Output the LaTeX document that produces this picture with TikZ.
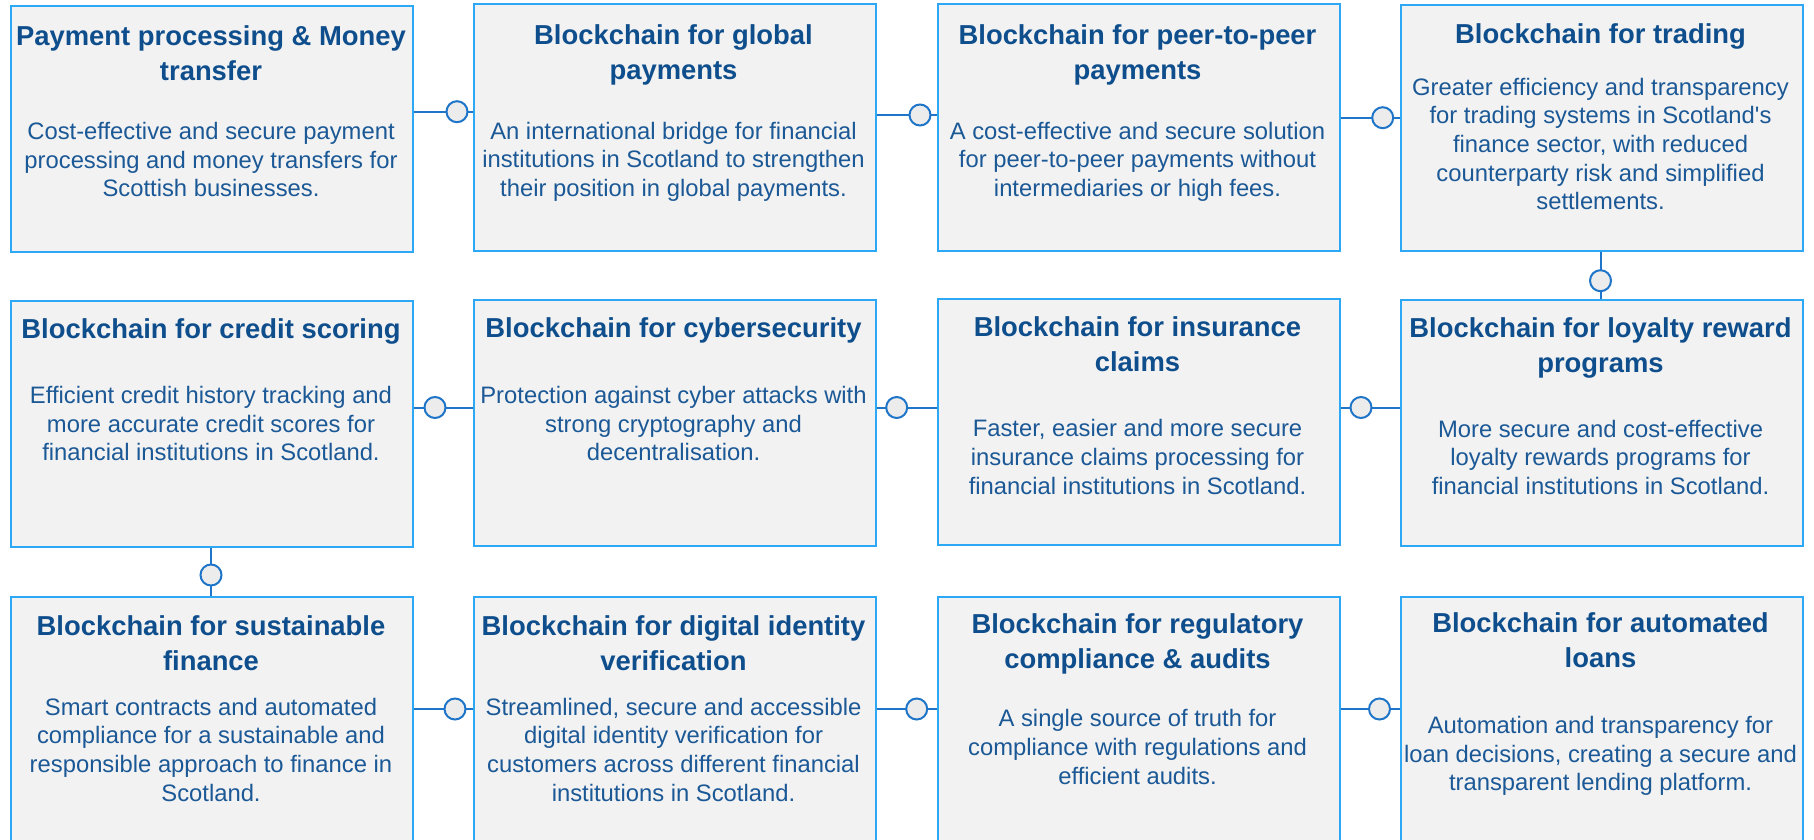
\documentclass[tikz,border=0pt]{standalone}
\usepackage{fontspec}
\setmainfont{Liberation Sans}
\usetikzlibrary{calc}
\definecolor{boxline}{HTML}{2CA8F5}
\definecolor{boxfill}{HTML}{F2F2F2}
\definecolor{linkblue}{HTML}{1F75C8}
\definecolor{dotfill}{HTML}{ECECEC}
\definecolor{titleblue}{HTML}{0F4E8C}
\definecolor{bodyblue}{HTML}{1B5896}
\newcommand{\tstr}{\rule{0pt}{30pt}}
\newcommand{\bstr}{\rule{0pt}{26pt}}
\begin{document}
\begin{tikzpicture}[x=1pt,y=-1pt,
 card/.style={draw=boxline, line width=2pt, fill=boxfill, minimum width=402pt, minimum height=246pt, inner sep=0pt, anchor=north west},
 ttl/.style={anchor=north, inner sep=0pt, align=center, text=titleblue, font=\fontsize{27.4}{35}\selectfont\bfseries},
 bdy/.style={anchor=north, inner sep=0pt, align=center, text=bodyblue, font=\fontsize{23.8}{28.6}\selectfont},
 link/.style={draw=linkblue, line width=2pt},
 dot/.style={circle, draw=linkblue, fill=dotfill, line width=2pt, minimum size=21pt, inner sep=0pt}]
\useasboundingbox (0,0) rectangle (1814,840);
\fill[white] (0,0) rectangle (1814,840);

% boxes
\node[card] (b1) at (10,5) {};
\node[card] (b2) at (472.5,3.5) {};
\node[card] (b3) at (936.5,3.5) {};
\node[card] (b4) at (1399.5,4.3) {};
\node[card] (b5) at (10,300) {};
\node[card] (b6) at (472.5,299.3) {};
\node[card] (b7) at (936.5,298.3) {};
\node[card] (b8) at (1399.5,299) {};
\node[card] (b9) at (10,595.5) {};
\node[card] (b10) at (472.5,595.5) {};
\node[card] (b11) at (936.5,595.5) {};
\node[card] (b12) at (1399.5,595.5) {};

% titles
\node[ttl] (t1) at (211,15) {\tstr Payment processing \& Money\\transfer};
\node[ttl] (t2) at (673.5,14) {\tstr Blockchain for global\\payments};
\node[ttl] (t3) at (1137.5,14) {\tstr Blockchain for peer-to-peer\\payments};
\node[ttl] (t4) at (1600.5,13.3) {\tstr Blockchain for trading};
\node[ttl] (t5) at (211,308.3) {\tstr Blockchain for credit scoring};
\node[ttl] (t6) at (673.5,307.5) {\tstr Blockchain for cybersecurity};
\node[ttl] (t7) at (1137.5,306.7) {\tstr Blockchain for insurance\\claims};
\node[ttl] (t8) at (1600.5,307) {\tstr Blockchain for loyalty reward\\programs};
\node[ttl] (t9) at (211,605) {\tstr Blockchain for sustainable\\finance};
\node[ttl] (t10) at (673.5,605) {\tstr Blockchain for digital identity\\verification};
\node[ttl] (t11) at (1137.5,603.3) {\tstr Blockchain for regulatory\\compliance \& audits};
\node[ttl] (t12) at (1600.5,602.7) {\tstr Blockchain for automated\\loans};

% bodies
\node[bdy] (d1) at (211,113.3) {\bstr Cost-effective and secure payment\\processing and money transfers for\\Scottish businesses.};
\node[bdy] (d2) at (673.5,113) {\bstr An international bridge for financial\\institutions in Scotland to strengthen\\their position in global payments.};
\node[bdy] (d3) at (1137.5,113) {\bstr A cost-effective and secure solution\\for peer-to-peer payments without\\intermediaries or high fees.};
\node[bdy] (d4) at (1600.5,69) {\bstr Greater efficiency and transparency\\for trading systems in Scotland\textquotesingle s\\finance sector, with reduced\\counterparty risk and simplified\\settlements.};
\node[bdy] (d5) at (211,377.3) {\bstr Efficient credit history tracking and\\more accurate credit scores for\\financial institutions in Scotland.};
\node[bdy] (d6) at (673.5,377.3) {\bstr Protection against cyber attacks with\\strong cryptography and\\decentralisation.};
\node[bdy] (d7) at (1137.5,410.7) {\bstr Faster, easier and more secure\\insurance claims processing for\\financial institutions in Scotland.};
\node[bdy] (d8) at (1600.5,411) {\bstr More secure and cost-effective\\loyalty rewards programs for\\financial institutions in Scotland.};
\node[bdy] (d9) at (211,689) {\bstr Smart contracts and automated\\compliance for a sustainable and\\responsible approach to finance in\\Scotland.};
\node[bdy] (d10) at (673.5,689) {\bstr Streamlined, secure and accessible\\digital identity verification for\\customers across different financial\\institutions in Scotland.};
\node[bdy] (d11) at (1137.5,700.7) {\bstr A single source of truth for\\compliance with regulations and\\efficient audits.};
\node[bdy] (d12) at (1600.5,707.3) {\bstr Automation and transparency for\\loan decisions, creating a secure and\\transparent lending platform.};

% connector marker positions
\coordinate (p12) at (457,111.7);
\coordinate (p23) at (920,115);
\coordinate (p34) at (1382.7,117.7);
\coordinate (p48) at (1600.5,280.7);
\coordinate (p87) at (1361,407.5);
\coordinate (p76) at (896.7,407.5);
\coordinate (p65) at (435,407.5);
\coordinate (p59) at (211,575);
\coordinate (p910) at (455,709);
\coordinate (p1011) at (916.7,709);
\coordinate (p1112) at (1379.5,709);

% connectors
\draw[link] (b1.east |- p12) -- (b2.west |- p12);
\draw[link] (b2.east |- p23) -- (b3.west |- p23);
\draw[link] (b3.east |- p34) -- (b4.west |- p34);
\draw[link] (b4.south -| p48) -- (b8.north -| p48);
\draw[link] (b8.west |- p87) -- (b7.east |- p87);
\draw[link] (b7.west |- p76) -- (b6.east |- p76);
\draw[link] (b6.west |- p65) -- (b5.east |- p65);
\draw[link] (b5.south -| p59) -- (b9.north -| p59);
\draw[link] (b9.east |- p910) -- (b10.west |- p910);
\draw[link] (b10.east |- p1011) -- (b11.west |- p1011);
\draw[link] (b11.east |- p1112) -- (b12.west |- p1112);

\node[dot] (c12) at (p12) {};
\node[dot] (c23) at (p23) {};
\node[dot] (c34) at (p34) {};
\node[dot] (c48) at (p48) {};
\node[dot] (c87) at (p87) {};
\node[dot] (c76) at (p76) {};
\node[dot] (c65) at (p65) {};
\node[dot] (c59) at (p59) {};
\node[dot] (c910) at (p910) {};
\node[dot] (c1011) at (p1011) {};
\node[dot] (c1112) at (p1112) {};
\end{tikzpicture}
\end{document}
